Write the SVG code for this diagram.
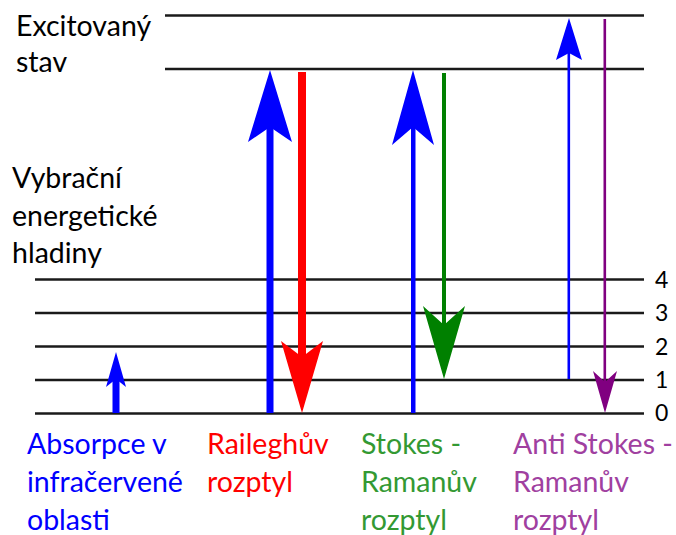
<svg xmlns="http://www.w3.org/2000/svg" width="676" height="535" viewBox="0 0 676 535">
<style>
.lvl{stroke:#1a1a1a;stroke-width:2.4;fill:none}
.t{font-family:Lato,"Open Sans",sans-serif;font-size:28.5px}
.d{font-family:Lato,"Open Sans",sans-serif;font-size:23px;fill:#000}
</style>
<rect width="676" height="535" fill="#fff"/>
<g id="levels">
<line class="lvl" x1="165" y1="15.5" x2="644" y2="15.5"/>
<line class="lvl" x1="165" y1="69" x2="644" y2="69"/>
<line class="lvl" x1="35" y1="279.5" x2="644" y2="279.5"/>
<line class="lvl" x1="35" y1="313" x2="644" y2="313"/>
<line class="lvl" x1="35" y1="346.5" x2="644" y2="346.5"/>
<line class="lvl" x1="35" y1="380" x2="644" y2="380"/>
<line class="lvl" x1="35" y1="413.5" x2="644" y2="413.5"/>
</g>
<g id="level-numbers">
<text class="d" x="655" y="288">4</text>
<text class="d" x="655" y="321">3</text>
<text class="d" x="655" y="355">2</text>
<text class="d" x="655" y="388">1</text>
<text class="d" x="655" y="421">0</text>
</g>
<g id="left-labels" fill="#000">
<text class="t" x="16" y="36">Excitovaný</text>
<text class="t" x="16" y="72">stav</text>
<text class="t" x="12" y="188">Vybrační</text>
<text class="t" x="12" y="226">energetické</text>
<text class="t" x="12" y="263">hladiny</text>
</g>
<g id="connectors">
<g id="absorption-arrow" fill="#0000ff">
<rect x="112.5" y="378" width="7" height="35"/>
<polygon points="116,352 126,387 116,379 106,387"/>
</g>
<g id="rayleigh-up" fill="#0000ff">
<rect x="266.5" y="125" width="7" height="288"/>
<polygon points="270,70 292,142 270,127 248,142"/>
</g>
<g id="rayleigh-down" fill="#ff0000">
<rect x="298" y="72" width="8" height="287"/>
<polygon points="302,413 323,341 302,357 281,341"/>
</g>
<g id="stokes-up" fill="#0000ff">
<rect x="411" y="125" width="4.5" height="288"/>
<polygon points="413,70 434,145 413,127 392,145"/>
</g>
<g id="stokes-down" fill="#008000">
<rect x="442" y="73" width="4" height="254"/>
<polygon points="444,379 465,306 444,325 423,306"/>
</g>
<g id="antistokes-up" fill="#0000ff">
<rect x="567.5" y="52" width="2.6" height="327"/>
<polygon points="569,18 582,60 569,53 556,60"/>
</g>
<g id="antistokes-down" fill="#800080">
<rect x="603.5" y="19" width="2.6" height="364"/>
<polygon points="605,413 617,371 605,382 593,371"/>
</g>
</g>
<g id="label-absorption" fill="#0000ff">
<text class="t" x="27" y="454">Absorpce v</text>
<text class="t" x="27" y="492">infračervené</text>
<text class="t" x="27" y="530">oblasti</text>
</g>
<g id="label-rayleigh" fill="#ff0000">
<text class="t" x="207" y="454">Raileghův</text>
<text class="t" x="207" y="492">rozptyl</text>
</g>
<g id="label-stokes" fill="#339933">
<text class="t" x="361" y="454">Stokes -</text>
<text class="t" x="361" y="492">Ramanův</text>
<text class="t" x="361" y="530">rozptyl</text>
</g>
<g id="label-antistokes" fill="#a040a0">
<text class="t" x="513" y="454">Anti Stokes -</text>
<text class="t" x="513" y="492">Ramanův</text>
<text class="t" x="513" y="530">rozptyl</text>
</g>
</svg>
